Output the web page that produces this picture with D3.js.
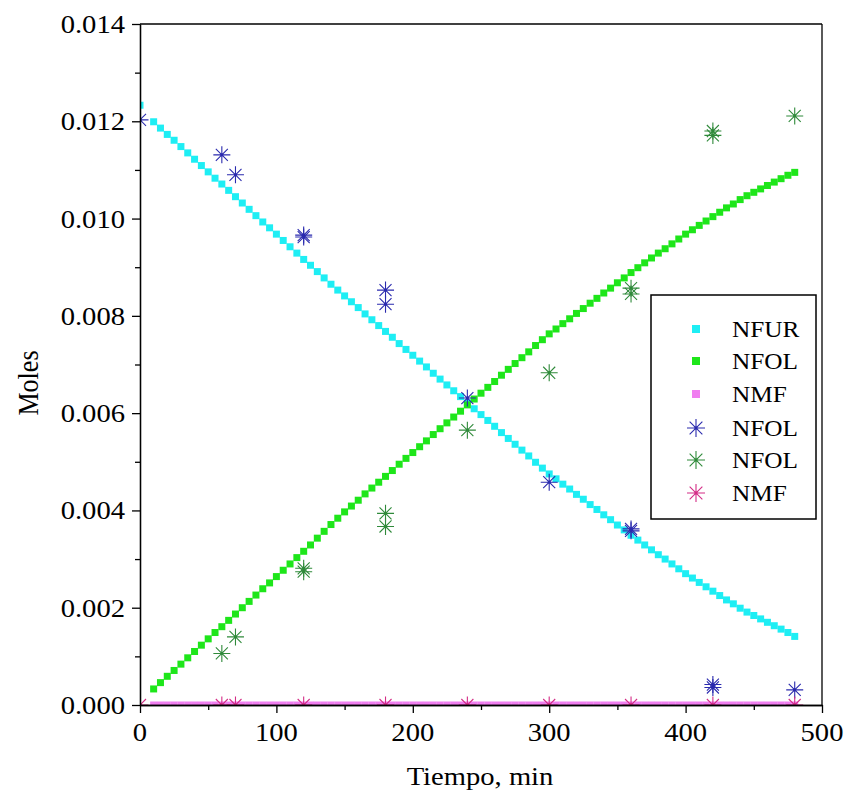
<!DOCTYPE html>
<html>
<head>
<meta charset="utf-8">
<script src="https://cdn.jsdelivr.net/npm/d3@7"></script>
<style>
  body { margin: 0; background: #fff; }
  svg { display: block; }
</style>
</head>
<body>
<svg id="chart" width="845" height="801"></svg>
<script>
// Model curves, sampled every 5 min from t = 10 min
const modelTime = [
  10, 15, 20, 25, 30, 35, 40, 45, 50, 55,
  60, 65, 70, 75, 80, 85, 90, 95, 100, 105,
  110, 115, 120, 125, 130, 135, 140, 145, 150, 155,
  160, 165, 170, 175, 180, 185, 190, 195, 200, 205,
  210, 215, 220, 225, 230, 235, 240, 245, 250, 255,
  260, 265, 270, 275, 280, 285, 290, 295, 300, 305,
  310, 315, 320, 325, 330, 335, 340, 345, 350, 355,
  360, 365, 370, 375, 380, 385, 390, 395, 400, 405,
  410, 415, 420, 425, 430, 435, 440, 445, 450, 455,
  460, 465, 470, 475, 480
];
// NFUR model also has its starting value at t = 0
const nfurStartTime = 0;
const nfurStartValue = 0.01233;
const nfurModel = [
  0.01199, 0.01186, 0.01173, 0.01161, 0.01148, 0.01135, 0.01122, 0.01109, 0.01096, 0.01083,
  0.01071, 0.01058, 0.01045, 0.01032, 0.01019, 0.01006, 0.00993, 0.00981, 0.00968, 0.00955,
  0.00942, 0.00929, 0.00916, 0.00904, 0.00891, 0.00878, 0.00865, 0.00853, 0.00841, 0.00829,
  0.00817, 0.00804, 0.00792, 0.00780, 0.00768, 0.00756, 0.00743, 0.00731, 0.00719, 0.00707,
  0.00695, 0.00682, 0.00670, 0.00658, 0.00646, 0.00634, 0.00621, 0.00609, 0.00597, 0.00585,
  0.00573, 0.00560, 0.00548, 0.00536, 0.00524, 0.00512, 0.00499, 0.00487, 0.00475, 0.00465,
  0.00454, 0.00444, 0.00433, 0.00423, 0.00412, 0.00402, 0.00391, 0.00381, 0.00370, 0.00360,
  0.00349, 0.00339, 0.00329, 0.00319, 0.00309, 0.00300, 0.00290, 0.00280, 0.00270, 0.00261,
  0.00252, 0.00243, 0.00234, 0.00225, 0.00216, 0.00208, 0.00199, 0.00191, 0.00184, 0.00177,
  0.00170, 0.00163, 0.00156, 0.00149, 0.00141
];
const nfolModel = [
  0.00033, 0.00046, 0.00059, 0.00071, 0.00084, 0.00097, 0.00110, 0.00123, 0.00136, 0.00149,
  0.00161, 0.00174, 0.00187, 0.00200, 0.00213, 0.00226, 0.00239, 0.00251, 0.00264, 0.00277,
  0.00290, 0.00303, 0.00316, 0.00329, 0.00343, 0.00357, 0.00371, 0.00384, 0.00397, 0.00409,
  0.00421, 0.00434, 0.00446, 0.00458, 0.00470, 0.00482, 0.00495, 0.00507, 0.00519, 0.00531,
  0.00543, 0.00556, 0.00568, 0.00580, 0.00592, 0.00604, 0.00617, 0.00629, 0.00641, 0.00653,
  0.00665, 0.00678, 0.00690, 0.00702, 0.00714, 0.00726, 0.00739, 0.00751, 0.00763, 0.00773,
  0.00784, 0.00794, 0.00805, 0.00815, 0.00826, 0.00836, 0.00847, 0.00857, 0.00868, 0.00878,
  0.00889, 0.00899, 0.00909, 0.00919, 0.00929, 0.00938, 0.00948, 0.00958, 0.00968, 0.00977,
  0.00986, 0.00995, 0.01004, 0.01013, 0.01022, 0.01030, 0.01039, 0.01047, 0.01054, 0.01061,
  0.01068, 0.01075, 0.01082, 0.01089, 0.01095
];
const nmfModel = [
  0, 0, 0, 0, 0, 0, 0, 0, 0, 0,
  0, 0, 0, 0, 0, 0, 0, 0, 0, 0,
  0, 0, 0, 0, 0, 0, 0, 0, 0, 0,
  0, 0, 0, 0, 0, 0, 0, 0, 0, 0,
  0, 0, 0, 0, 0, 0, 0, 0, 0, 0,
  0, 0, 0, 0, 0, 0, 0, 0, 0, 0,
  0, 0, 0, 0, 0, 0, 0, 0, 0, 0,
  0, 0, 0, 0, 0, 0, 0, 0, 0, 0,
  0, 0, 0, 0, 0, 0, 0, 0, 0, 0,
  0, 0, 0, 0, 0
];

// Experimental points (asterisks)
const expBlueTime  = [0, 60, 70, 120, 120, 180, 180, 240, 300, 360, 360, 420, 420, 480];
const expBlueValue = [0.01203, 0.01131, 0.01090, 0.00966, 0.00962, 0.00853, 0.00824, 0.00631, 0.00458, 0.00362, 0.00358, 0.00042, 0.00036, 0.00031];
const expGreenTime  = [60, 70, 120, 120, 180, 180, 240, 300, 360, 360, 420, 420, 480];
const expGreenValue = [0.00106, 0.00140, 0.00281, 0.00274, 0.00394, 0.00367, 0.00565, 0.00683, 0.00857, 0.00845, 0.01180, 0.01171, 0.01211];
const expNmfTime  = [0, 60, 70, 120, 180, 240, 300, 360, 420, 480];
const expNmfValue = [0, 0, 0, 0, 0, 0, 0, 0, 0, 0];

// Axis ticks and labels
const xMajorTicks = [0, 100, 200, 300, 400, 500];
const xMinorTicks = [50, 150, 250, 350, 450];
const yMajorTicks = [0, 0.002, 0.004, 0.006, 0.008, 0.010, 0.012, 0.014];
const yMinorTicks = [0.001, 0.003, 0.005, 0.007, 0.009, 0.011, 0.013];
const xTitle = "Tiempo, min";
const yTitle = "Moles";
const legendLabels = ["NFUR", "NFOL", "NMF", "NFOL", "NFOL", "NMF"];

const C = {
  cyan: "#1eeef4",
  green: "#1ee61a",
  violet: "#f07ef0",
  blueStar: "#2a2aae",
  greenStar: "#2f8a3a",
  pinkStar: "#d42c86"
};
const FONT = "'Liberation Serif'";

const svg = d3.select("#chart");
const L = 140, R = 822, T = 24, B = 705;
const x = d3.scaleLinear().domain([0, 500]).range([L, R]);
const y = d3.scaleLinear().domain([0, 0.014]).range([B, T]);
const SX = 1.1; // horizontal stretch of lettering

svg.append("rect").attr("width", 845).attr("height", 801).attr("fill", "#fff");

svg.append("defs").append("clipPath").attr("id", "plotClip")
  .append("rect").attr("x", L).attr("y", T).attr("width", R - L).attr("height", B - T);

const plot = svg.append("g").attr("clip-path", "url(#plotClip)");

const SQ = 7;
function squares(times, values, color) {
  plot.append("g").selectAll("rect")
    .data(times.map((t, i) => [t, values[i]]))
    .join("rect")
    .attr("x", d => x(d[0]) - SQ / 2)
    .attr("y", d => y(d[1]) - SQ / 2)
    .attr("width", SQ).attr("height", SQ)
    .attr("fill", color);
}

function starPath(r) {
  const d = r * Math.SQRT1_2;
  return `M${-r},0H${r}M0,${-r}V${r}M${-d},${-d}L${d},${d}M${-d},${d}L${d},${-d}`;
}
function drawStar(g, cx, cy, color, r) {
  const s = g.append("g").attr("transform", `translate(${cx},${cy})`);
  s.append("path").attr("d", starPath(r)).attr("stroke", color)
    .attr("stroke-width", 1.1).attr("fill", "none");
  s.append("circle").attr("r", 1.4).attr("fill", color);
}
function stars(times, values, color) {
  const g = plot.append("g");
  times.forEach((t, i) => drawStar(g, x(t), y(values[i]), color, 8.5));
}

squares([nfurStartTime].concat(modelTime), [nfurStartValue].concat(nfurModel), C.cyan);
squares(modelTime, nfolModel, C.green);
squares(modelTime, nmfModel, C.violet);
stars(expBlueTime, expBlueValue, C.blueStar);
stars(expGreenTime, expGreenValue, C.greenStar);
stars(expNmfTime, expNmfValue, C.pinkStar);

// Axes
const yAxis = d3.axisLeft(y).tickValues(yMajorTicks).tickSize(8).tickSizeOuter(0).tickFormat("");
const yAxisMinor = d3.axisLeft(y).tickValues(yMinorTicks).tickSize(5).tickSizeOuter(0).tickFormat("");
const xAxis = d3.axisBottom(x).tickValues(xMajorTicks).tickSize(8).tickSizeOuter(0).tickFormat("");
const xAxisMinor = d3.axisBottom(x).tickValues(xMinorTicks).tickSize(5).tickSizeOuter(0).tickFormat("");
[
  [yAxis, `translate(${L},0)`], [yAxisMinor, `translate(${L},0)`],
  [xAxis, `translate(0,${B})`], [xAxisMinor, `translate(0,${B})`]
].forEach(([ax, tr]) => {
  const g = svg.append("g").attr("transform", tr).call(ax);
  g.selectAll("line").attr("stroke", "#000").attr("stroke-width", 1.3);
  g.select(".domain").attr("stroke", "#000").attr("stroke-width", 1.3);
});
// Frame top and right
const frame = svg.append("g").attr("stroke", "#000").attr("stroke-width", 1.3);
frame.append("line").attr("x1", L).attr("x2", R).attr("y1", T).attr("y2", T);
frame.append("line").attr("x1", R).attr("x2", R).attr("y1", T).attr("y2", B);

// Tick labels
const fmtY = d3.format(".3f");
svg.append("g").selectAll("text").data(yMajorTicks).join("text")
  .attr("transform", d => `translate(125,${y(d) + 9}) scale(${SX},1)`)
  .attr("text-anchor", "end").attr("font-family", FONT).attr("font-size", 26)
  .attr("fill", "#000").text(d => fmtY(d));
svg.append("g").selectAll("text").data(xMajorTicks).join("text")
  .attr("transform", d => `translate(${x(d)},741) scale(${SX},1)`)
  .attr("text-anchor", "middle").attr("font-family", FONT).attr("font-size", 26)
  .attr("fill", "#000").text(d => d);

// Axis titles
svg.append("text").attr("transform", `translate(480,785) scale(${SX},1)`)
  .attr("text-anchor", "middle").attr("font-family", FONT).attr("font-size", 26)
  .attr("fill", "#000").text(xTitle);
svg.append("text").attr("transform", `translate(38,383) scale(${SX},1) rotate(-90)`)
  .attr("text-anchor", "middle").attr("font-family", FONT).attr("font-size", 26)
  .attr("fill", "#000").text(yTitle);

// Legend
const lg = svg.append("g");
lg.append("rect").attr("x", 651).attr("y", 295).attr("width", 165).attr("height", 224)
  .attr("fill", "#fff").attr("stroke", "#000").attr("stroke-width", 1.5);
const rowY = [329, 361, 394, 428, 460, 493];
const legendKinds = [
  ["sq", C.cyan], ["sq", C.green], ["sq", C.violet],
  ["star", C.blueStar], ["star", C.greenStar], ["star", C.pinkStar]
];
legendKinds.forEach(([kind, color], i) => {
  const cy = rowY[i];
  if (kind === "sq") {
    lg.append("rect").attr("x", 696 - 4).attr("y", cy - 4).attr("width", 8).attr("height", 8).attr("fill", color);
  } else {
    drawStar(lg, 696, cy, color, 9);
  }
  lg.append("text").attr("transform", `translate(732,${cy + 8}) scale(${SX},1)`)
    .attr("font-family", FONT).attr("font-size", 23).attr("fill", "#000")
    .text(legendLabels[i]);
});
</script>
</body>
</html>
